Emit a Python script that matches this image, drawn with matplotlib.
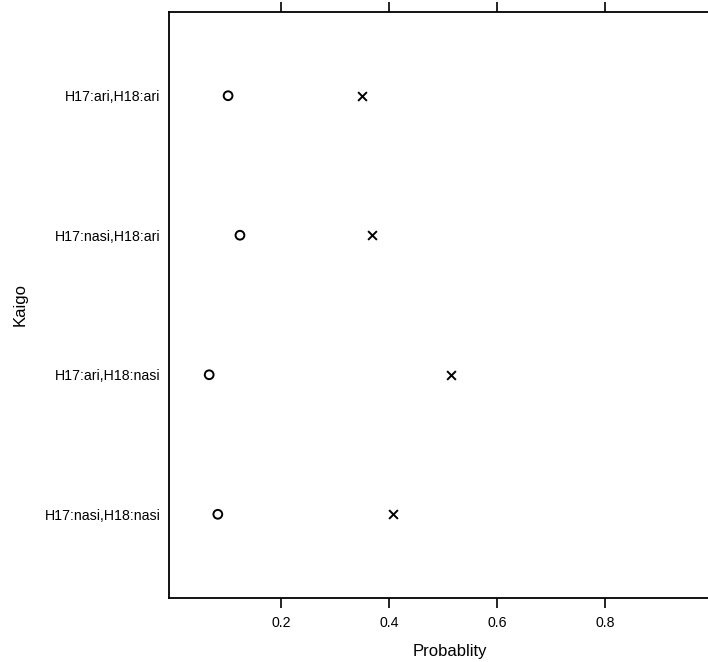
import matplotlib
matplotlib.use("Agg")
import matplotlib.pyplot as plt

categories = ["H17:ari,H18:ari", "H17:nasi,H18:ari", "H17:ari,H18:nasi", "H17:nasi,H18:nasi"]
circle_vals = [0.102, 0.124, 0.067, 0.083]
cross_vals = [0.350, 0.368, 0.515, 0.407]
xticks = [0.2, 0.4, 0.6, 0.8]

plt.rcParams['font.family'] = ['Liberation Sans', 'DejaVu Sans']

W, H = 708, 662
fig = plt.figure(figsize=(W/100, H/100), dpi=100)
left, right, top, bottom = 169, 730, 12, 598
ax = fig.add_axes([left/W, 1 - bottom/H, (right-left)/W, (bottom-top)/H])

n = len(categories)
ypos = [n - i for i in range(n)]
ax.scatter(circle_vals, ypos, s=40, facecolors='none', edgecolors='black', linewidths=1.4, marker='o', zorder=3)
ax.scatter(cross_vals, ypos, s=40, color='black', linewidths=1.4, marker='x', zorder=3)

ax.set_ylim(0.4, n + 0.6)
x0 = 0.2 - (281 - left) / 540
ax.set_xlim(x0, x0 + (right - left) / 540)

ax.set_yticks(ypos)
ax.set_yticklabels(categories, fontsize=10.2)
ax.tick_params(axis='y', length=0, pad=6)
ax.set_xticks(xticks)
ax.set_xticklabels([str(t) for t in xticks], fontsize=10.2)
ax.tick_params(axis='x', direction='out', length=7, width=1.2, top=True, labeltop=False, pad=6)
for s in ax.spines.values():
    s.set_linewidth(1.3)
ax.spines['right'].set_visible(False)

ax.set_xlabel("Probablity", fontsize=12, labelpad=10)
ax.set_ylabel("Kaigo", fontsize=12, labelpad=12)

fig.savefig("out.png", dpi=100)
